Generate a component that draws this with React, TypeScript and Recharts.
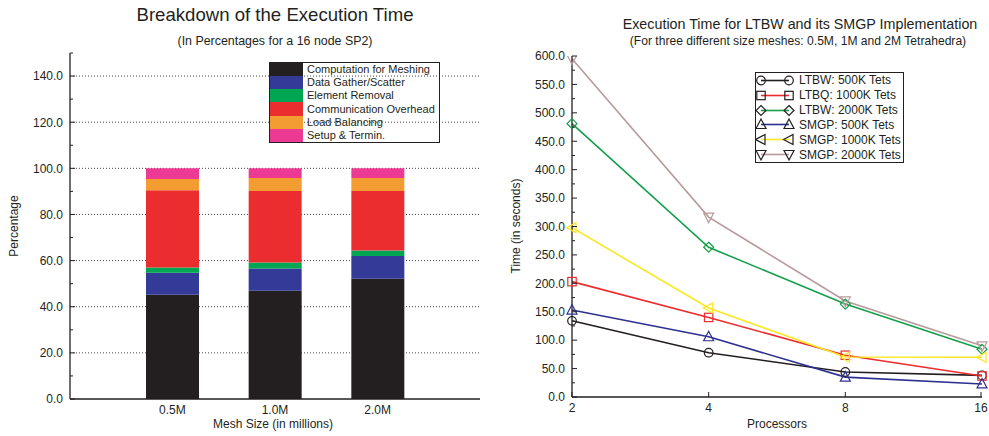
import React from "react";
import { BarChart, Bar, LineChart, Line, XAxis, YAxis, CartesianGrid } from "recharts";

// left chart: breakdown of execution time (percent)
const meshSizes = ["0.5M", "1.0M", "2.0M"];
const meshing = [45.2, 46.9, 52.1];
const gather = [9.5, 9.7, 9.9];
const removal = [2.3, 2.6, 2.4];
const comm = [33.5, 31.0, 25.8];
const balancing = [4.9, 5.6, 5.6];
const setup = [4.6, 4.2, 4.2];
const pctTicks = [0, 10, 20, 30, 40, 50, 60, 70, 80, 90, 100, 110, 120, 130, 140, 150];
const pctGrid = [20, 40, 60, 80, 100, 120, 140];

// right chart: execution time (seconds)
const processors = ["2", "4", "8", "16"];
const ltbw500 = [134, 78, 44, 38];
const ltbq1000 = [203, 140, 73.5, 37];
const ltbw2000 = [481, 263.5, 163.5, 84];
const smgp500 = [153, 106, 35, 23];
const smgp1000 = [298, 156.5, 70.5, 70];
const smgp2000 = [595, 316.5, 169, 90];
const timeTicks = [0, 25, 50, 75, 100, 125, 150, 175, 200, 225, 250, 275, 300, 325, 350, 375, 400, 425, 450, 475, 500, 525, 550, 575, 600];

const INK = "#231f20";
const FONT = '"Liberation Sans", Arial, Helvetica, sans-serif';

const stacks = [
  { key: "meshing", label: "Computation for Meshing", color: "#231f20", vals: meshing },
  { key: "gather", label: "Data Gather/Scatter", color: "#343a98", vals: gather },
  { key: "removal", label: "Element Removal", color: "#00a651", vals: removal },
  { key: "comm", label: "Communication Overhead", color: "#ec2d30", vals: comm },
  { key: "balancing", label: "Load Balancing", color: "#f39c32", vals: balancing },
  { key: "setup", label: "Setup & Termin.", color: "#ec3a94", vals: setup },
];

const lines = [
  { key: "ltbw500", label: "LTBW: 500K Tets", color: "#231f20", shape: "circle", vals: ltbw500 },
  { key: "ltbq1000", label: "LTBQ: 1000K Tets", color: "#ee2b2e", shape: "square", vals: ltbq1000 },
  { key: "ltbw2000", label: "LTBW: 2000K Tets", color: "#12a04a", shape: "diamond", vals: ltbw2000 },
  { key: "smgp500", label: "SMGP: 500K Tets", color: "#2e3192", shape: "up", vals: smgp500 },
  { key: "smgp1000", label: "SMGP: 1000K Tets", color: "#fbe720", shape: "left", vals: smgp1000 },
  { key: "smgp2000", label: "SMGP: 2000K Tets", color: "#b99a9c", shape: "down", vals: smgp2000 },
];

const barData = meshSizes.map((mesh, i) => {
  const row: any = { mesh };
  stacks.forEach((s) => (row[s.key] = s.vals[i]));
  return row;
});

const lineData = processors.map((p, i) => {
  const row: any = { p };
  lines.forEach((l) => (row[l.key] = l.vals[i]));
  return row;
});

function Marker({ shape, cx, cy, color }: any) {
  const common = { fill: "none", stroke: color, strokeWidth: 1.2 };
  switch (shape) {
    case "circle":
      return <circle cx={cx} cy={cy} r={4.3} {...common} />;
    case "square":
      return <rect x={cx - 4.2} y={cy - 4.2} width={8.4} height={8.4} {...common} />;
    case "diamond":
      return <polygon points={`${cx},${cy - 5} ${cx + 5},${cy} ${cx},${cy + 5} ${cx - 5},${cy}`} {...common} />;
    case "up":
      return <polygon points={`${cx},${cy - 5.5} ${cx + 5},${cy + 4} ${cx - 5},${cy + 4}`} {...common} />;
    case "left":
      return <polygon points={`${cx - 5.5},${cy} ${cx + 4},${cy - 5} ${cx + 4},${cy + 5}`} {...common} />;
    default:
      return <polygon points={`${cx},${cy + 5.5} ${cx + 5},${cy - 4} ${cx - 5},${cy - 4}`} {...common} />;
  }
}

// ticks drawn inward, labels outside
const leftTick = (step: number, digits: number) => ({ x, y, payload }: any) => {
  const v = payload.value;
  const major = v % step === 0;
  return (
    <g>
      <line x1={x} x2={x + (major ? 5 : 3)} y1={y} y2={y} stroke={INK} />
      {major && (
        <text x={x - 7} y={y} dy="0.36em" textAnchor="end" fontSize={12} fill={INK} fontFamily={FONT}>
          {v.toFixed(digits)}
        </text>
      )}
    </g>
  );
};

const rightTick = (step: number) => ({ x, y, payload }: any) => {
  const major = payload.value % step === 0;
  return <line x1={x} x2={x - (major ? 5 : 3)} y1={y} y2={y} stroke={INK} />;
};

const topTick = ({ x, y }: any) => <line x1={x} x2={x} y1={y} y2={y + 5} stroke={INK} />;

const bottomTick = (ticks: boolean) => ({ x, y, payload }: any) => (
  <g>
    {ticks && <line x1={x} x2={x} y1={y} y2={y - 5} stroke={INK} />}
    <text x={x} y={y + 11} dy="0.36em" textAnchor="middle" fontSize={12} fill={INK} fontFamily={FONT}>
      {payload.value}
    </text>
  </g>
);

export default function App() {
  return (
    <div style={{ position: "absolute", left: 0, top: 0, width: 989, height: 436, background: "#fff", fontFamily: FONT, color: INK }}>
      <div style={{ position: "absolute", left: 0, top: 0 }}>
        <BarChart width={490} height={436} data={barData} margin={{ top: 53, right: 10, bottom: 7, left: 10 }}>
          <CartesianGrid horizontal vertical={false} horizontalValues={pctGrid} stroke="#444" strokeDasharray="1 2" />
          <XAxis dataKey="mesh" height={30} padding={{ left: 51, right: 51 }} tickSize={0} tickMargin={0}
            tick={bottomTick(false)} axisLine={{ stroke: INK, strokeWidth: 1.3 }} tickLine={false} />
          <XAxis xAxisId="top" dataKey="mesh" orientation="top" height={0} padding={{ left: 51, right: 51 }}
            tickSize={0} tickMargin={0} tick={topTick} axisLine={{ stroke: INK }} tickLine={false} />
          <YAxis width={60} type="number" domain={[0, 150]} ticks={pctTicks} interval={0} allowDataOverflow
            tickSize={0} tickMargin={0} tick={leftTick(20, 1)} axisLine={{ stroke: INK, strokeWidth: 1.3 }} tickLine={false} />
          <YAxis yAxisId="r" orientation="right" width={0} type="number" domain={[0, 150]} ticks={pctTicks} interval={0}
            allowDataOverflow tickSize={0} tickMargin={0} tick={rightTick(20)} axisLine={{ stroke: INK }} tickLine={false} />
          {stacks.map((s) => (
            <Bar key={s.key} dataKey={s.key} stackId="a" fill={s.color} barSize={53} isAnimationActive={false} />
          ))}
        </BarChart>
      </div>

      <div style={{ position: "absolute", left: 495, top: 0 }}>
        <LineChart width={494} height={436} data={lineData} margin={{ top: 56, right: 7, bottom: 9, left: 10 }}>
          <XAxis dataKey="p" height={30} tickSize={0} tickMargin={0} tick={bottomTick(true)}
            axisLine={{ stroke: INK, strokeWidth: 1.3 }} tickLine={false} />
          <XAxis xAxisId="top" dataKey="p" orientation="top" height={0} tickSize={0} tickMargin={0}
            tick={topTick} axisLine={{ stroke: INK }} tickLine={false} />
          <YAxis width={67} type="number" domain={[0, 600]} ticks={timeTicks} interval={0} allowDataOverflow
            tickSize={0} tickMargin={0} tick={leftTick(50, 1)} axisLine={{ stroke: INK, strokeWidth: 1.3 }} tickLine={false} />
          <YAxis yAxisId="r" orientation="right" width={0} type="number" domain={[0, 600]} ticks={timeTicks} interval={0}
            allowDataOverflow tickSize={0} tickMargin={0} tick={rightTick(50)} axisLine={{ stroke: INK }} tickLine={false} />
          {lines.map((l) => (
            <Line key={l.key} type="linear" dataKey={l.key} stroke={l.color} strokeWidth={1.6} isAnimationActive={false}
              dot={(p: any) => <Marker key={`${l.key}-${p.index}`} shape={l.shape} cx={p.cx} cy={p.cy} color={l.color} />}
              activeDot={false} />
          ))}
        </LineChart>
      </div>

      {/* titles and axis labels */}
      <svg width={989} height={436} style={{ position: "absolute", left: 0, top: 0, pointerEvents: "none" }} fontFamily={FONT} fill={INK}>
        <text x={275} y={14} dy="0.36em" textAnchor="middle" fontSize={18.6}>Breakdown of the Execution Time</text>
        <text x={275} y={41} dy="0.36em" textAnchor="middle" fontSize={12.4}>(In Percentages for a 16 node SP2)</text>
        <text x={14} y={226} dy="0.36em" textAnchor="middle" fontSize={12} transform="rotate(-90 14 226)">Percentage</text>
        <text x={273} y={424} dy="0.36em" textAnchor="middle" fontSize={12}>Mesh Size (in millions)</text>

        <text x={800} y={24} dy="0.36em" textAnchor="middle" fontSize={14.3}>Execution Time for LTBW and its SMGP Implementation</text>
        <text x={798} y={41} dy="0.36em" textAnchor="middle" fontSize={12.1}>(For three different size meshes: 0.5M, 1M and 2M Tetrahedra)</text>
        <text x={516} y={226} dy="0.36em" textAnchor="middle" fontSize={12} transform="rotate(-90 516 226)">Time (in seconds)</text>
        <text x={777} y={424} dy="0.36em" textAnchor="middle" fontSize={12}>Processors</text>
      </svg>

      {/* left legend */}
      <div style={{ position: "absolute", left: 269, top: 62, width: 171, height: 81, boxSizing: "border-box", border: `1px solid ${INK}` }}>
        {stacks.map((s) => (
          <div key={s.key} style={{ display: "flex", alignItems: "center", height: 79 / 6 }}>
            <div style={{ width: 33, height: "100%", background: s.color }} />
            <span style={{ fontSize: 11, marginLeft: 4, whiteSpace: "nowrap", lineHeight: 1 }}>{s.label}</span>
          </div>
        ))}
      </div>

      {/* right legend */}
      <div style={{ position: "absolute", left: 755, top: 72, width: 149, height: 91, boxSizing: "border-box", border: `1px solid ${INK}`, background: "#fff" }}>
        {lines.map((l) => (
          <div key={l.key} style={{ display: "flex", alignItems: "center", height: 89 / 6 }}>
            <svg width={43} height={15} style={{ flex: "none" }}>
              <line x1={5} x2={33} y1={7.5} y2={7.5} stroke={l.color} strokeWidth={1.6} />
              <Marker shape={l.shape} cx={5} cy={7.5} color={INK} />
              <Marker shape={l.shape} cx={33} cy={7.5} color={INK} />
            </svg>
            <span style={{ fontSize: 12, whiteSpace: "nowrap", lineHeight: 1 }}>{l.label}</span>
          </div>
        ))}
      </div>
    </div>
  );
}
